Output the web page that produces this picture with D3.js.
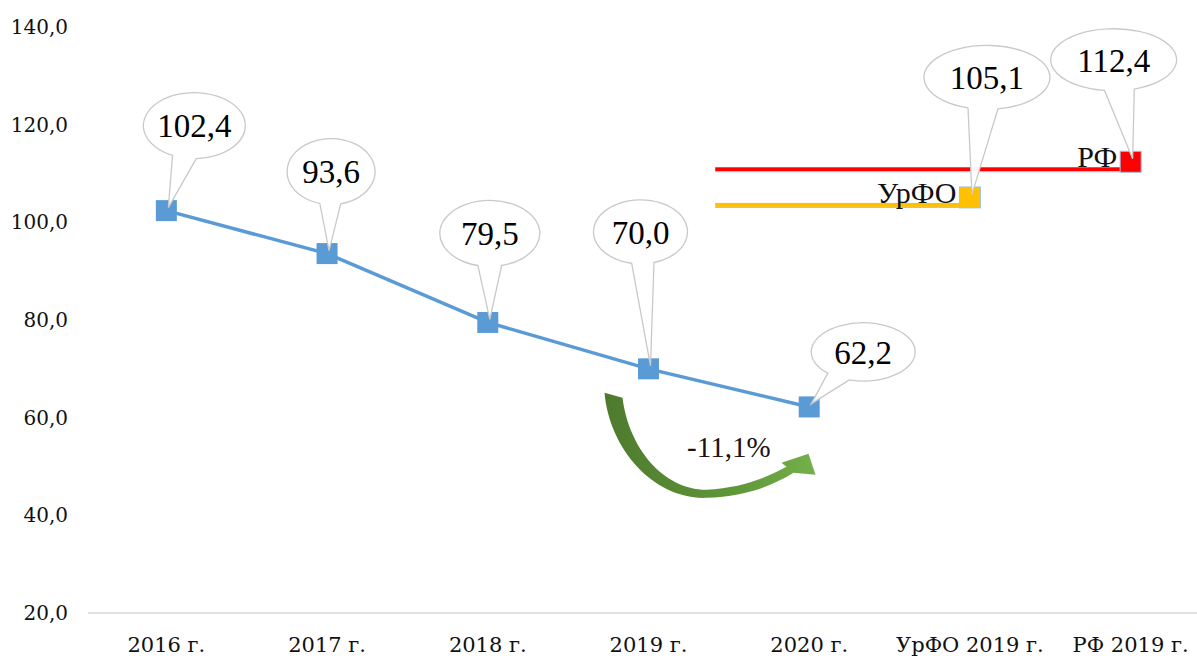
<!DOCTYPE html>
<html>
<head>
<meta charset="utf-8">
<script src="https://cdn.jsdelivr.net/npm/d3@7"></script>
<style>
  body { margin: 0; background: #fff; }
  svg { display: block; }
</style>
</head>
<body>
<svg width="1197" height="662"></svg>
<script>
// data
var categories = ["2016 г.", "2017 г.", "2018 г.", "2019 г.", "2020 г.", "УрФО 2019 г.", "РФ 2019 г."];
var years = ["2016 г.", "2017 г.", "2018 г.", "2019 г.", "2020 г."];
var values = [102.4, 93.6, 79.5, 70.0, 62.2];
var compareNames = ["УрФО", "РФ"];
var compareCats = ["УрФО 2019 г.", "РФ 2019 г."];
var compareValues = [105.1, 112.4];
var compareColors = ["#ffc000", "#ff0000"];
var yTicks = [20, 40, 60, 80, 100, 120, 140];
var changeLabel = "-11,1%";

// callout placement (ellipse centre offset from the point, radii)
var callouts = [
    {dx: 28, dy: -85, rx: 51, ry: 33},
    {dx: 4, dy: -82, rx: 44, ry: 33},
    {dx: 2, dy: -89, rx: 50, ry: 33},
    {dx: -8, dy: -137, rx: 47, ry: 32},
    {dx: 54, dy: -55, rx: 52, ry: 29},
    {dx: 17, dy: -120, rx: 63, ry: 32},
    {dx: -17, dy: -102, rx: 63, ry: 31}
];

var svg = d3.select("svg");
var fmt = function (v) { return v.toFixed(1).replace(".", ","); };

var x = d3.scaleBand().domain(categories).range([86, 1211]);
var y = d3.scaleLinear().domain([20, 140]).range([613, 27]);
var cx = function (c) { return x(c) + x.bandwidth() / 2; };

// baseline
svg.append("line")
    .attr("x1", 88).attr("x2", 1197)
    .attr("y1", y(20)).attr("y2", y(20))
    .attr("stroke", "#d9d9d9").attr("stroke-width", 1.5);

// y axis labels
svg.append("g").selectAll("text")
    .data(yTicks).enter().append("text")
    .attr("x", 68)
    .attr("y", function (d) { return y(d); })
    .attr("dy", "0.35em")
    .attr("text-anchor", "end")
    .attr("font-family", "DejaVu Serif")
    .attr("font-size", 20)
    .attr("fill", "#111")
    .text(fmt);

// x axis labels
svg.append("g").selectAll("text")
    .data(categories).enter().append("text")
    .attr("x", cx)
    .attr("y", 652)
    .attr("text-anchor", "middle")
    .attr("font-family", "DejaVu Serif")
    .attr("font-size", 21)
    .attr("fill", "#111")
    .text(function (d) { return d; });

// comparison bars (УрФО, РФ)
var sq = 21;
var lineStart = cx(years[4]) - 94;
var cmp = svg.append("g");
compareValues.forEach(function (v, i) {
    var px = cx(compareCats[i]), py = y(v);
    cmp.append("rect")
        .attr("x", lineStart).attr("y", py + sq / 2 - 5)
        .attr("width", px + sq / 2 - lineStart).attr("height", 4)
        .attr("fill", compareColors[i]);
    cmp.append("line")
        .attr("x1", lineStart).attr("x2", px + sq / 2)
        .attr("y1", py + sq / 2 - 0.5).attr("y2", py + sq / 2 - 0.5)
        .attr("stroke", "#9dc3e6").attr("stroke-width", 1);
    cmp.append("rect")
        .attr("x", px - sq / 2).attr("y", py - sq / 2)
        .attr("width", sq).attr("height", sq)
        .attr("fill", compareColors[i])
        .attr("stroke", "#9dc3e6").attr("stroke-width", 1);
    cmp.append("text")
        .attr("x", px - sq / 2 - 3)
        .attr("y", py + sq / 2 - 5)
        .attr("text-anchor", "end")
        .attr("font-family", "Liberation Serif")
        .attr("font-size", 30)
        .attr("fill", "#111")
        .text(compareNames[i]);
});

// main line
var line = d3.line()
    .x(function (d, i) { return cx(years[i]); })
    .y(function (d) { return y(d); });
svg.append("path")
    .datum(values)
    .attr("d", line)
    .attr("fill", "none")
    .attr("stroke", "#5b9bd5")
    .attr("stroke-width", 3.5);
svg.append("g").selectAll("rect")
    .data(values).enter().append("rect")
    .attr("x", function (d, i) { return cx(years[i]) - sq / 2; })
    .attr("y", function (d) { return y(d) - sq / 2; })
    .attr("width", sq).attr("height", sq)
    .attr("fill", "#5b9bd5");

// green curved arrow, anchored at the 2019 point
var defs = svg.append("defs");
var grad = defs.append("linearGradient").attr("id", "arrowGrad")
    .attr("x1", "0%").attr("x2", "100%").attr("y1", "0%").attr("y2", "0%");
grad.append("stop").attr("offset", "0%").attr("stop-color", "#4e7a2e");
grad.append("stop").attr("offset", "60%").attr("stop-color", "#5e9638");
grad.append("stop").attr("offset", "100%").attr("stop-color", "#74b04a");
svg.append("path")
    .attr("transform", "translate(" + cx(years[3]) + "," + y(values[3]) + ")")
    .attr("d", "M -44,24 C -39,81 6,131 58,129 C 96,128 124,117 145,104 " +
               "L 167,106 L 160,85 L 133,94 L 138,98 " +
               "C 116,110 91,119 58,121 C 14,121 -20,78 -26,29 Z")
    .attr("fill", "url(#arrowGrad)");
svg.append("text")
    .attr("x", (cx(years[3]) + cx(years[4])) / 2)
    .attr("y", 457)
    .attr("text-anchor", "middle")
    .attr("font-family", "Liberation Serif")
    .attr("font-size", 29)
    .attr("fill", "#1a1212")
    .text(changeLabel);

// callouts
var points = values.map(function (v, i) { return {x: cx(years[i]), y: y(v), v: v}; })
    .concat(compareValues.map(function (v, i) { return {x: cx(compareCats[i]), y: y(v), v: v}; }));
var cg = svg.append("g");
points.forEach(function (p, i) {
    var c = callouts[i];
    var ex = p.x + c.dx, ey = p.y + c.dy;
    var tx = p.x + 2, ty = p.y - 3;
    var phi = Math.atan2((ty - ey) / c.ry, (tx - ex) / c.rx);
    var d = 0.24;
    var a1 = phi - d, a2 = phi + d;
    var p1 = [ex + c.rx * Math.cos(a1), ey + c.ry * Math.sin(a1)];
    var p2 = [ex + c.rx * Math.cos(a2), ey + c.ry * Math.sin(a2)];
    cg.append("path")
        .attr("d", "M" + p1 + " L" + tx + "," + ty + " L" + p2 +
                   " A" + c.rx + "," + c.ry + " 0 1 1 " + p1 + " Z")
        .attr("fill", "#fff")
        .attr("fill-opacity", 0.95)
        .attr("stroke", "#c9c9c9")
        .attr("stroke-width", 1.3);
    cg.append("text")
        .attr("x", ex).attr("y", ey)
        .attr("dy", "0.36em")
        .attr("text-anchor", "middle")
        .attr("font-family", "Liberation Serif")
        .attr("font-size", 33)
        .attr("fill", "#000")
        .text(fmt(p.v));
});
</script>
</body>
</html>
